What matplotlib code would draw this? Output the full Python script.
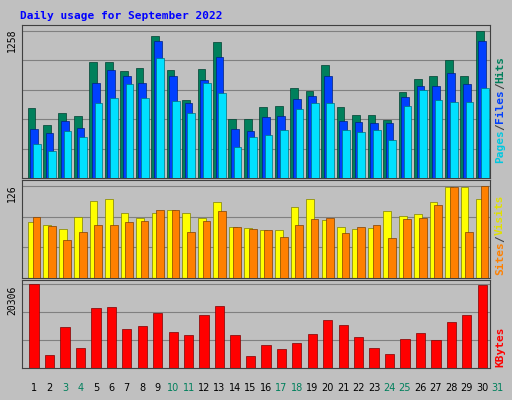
import matplotlib
matplotlib.use("Agg")
import matplotlib.pyplot as plt
import numpy as np

days = list(range(1, 31))
day_labels = [str(d) for d in range(1, 32)]
weekend = [3, 4, 10, 11, 17, 18, 24, 25, 31]
hits = [599,451,555,529,989,989,911,937,1215,920,668,928,1163,503,503,607,616,772,746,963,607,538,538,495,737,850,876,1006,876,1258]
files = [416,382,486,425,816,920,868,816,1171,876,642,842,1032,416,399,521,529,677,703,868,486,477,469,469,694,790,790,894,807,1171]
pages = [295,234,399,347,642,685,807,685,1024,659,555,816,729,269,347,364,408,590,642,642,408,390,408,321,616,755,668,651,651,772]
visits = [77,73,67,84,106,109,90,83,90,94,90,83,104,70,69,66,66,97,108,80,70,67,69,92,85,88,105,125,125,109]
sites = [84,71,52,63,73,73,77,78,94,94,63,78,92,70,67,66,57,73,81,83,62,70,73,55,81,83,101,125,63,127]
kbytes = [20306,3259,10028,4763,14541,14791,9527,10279,13287,8774,8022,12786,15042,8022,3008,5515,4513,6017,8273,11532,10529,7521,4763,3510,7020,8524,6769,11031,12786,20056]

bg = "#C0C0C0"
fig = plt.figure(figsize=(5.12, 4.0), dpi=100, facecolor=bg)
W, H = 512, 400
def ax_px(x0, y0, x1, y1):
    a = fig.add_axes([x0/W, 1-y1/H, (x1-x0)/W, (y1-y0)/H], facecolor=bg)
    a.set_xticks([]); a.set_yticks([])
    for s in a.spines.values():
        s.set_color("#404040")
    return a

x = np.array(days, dtype=float)
xl = (0.22, 30.5)

a1 = ax_px(22, 25, 490, 178)
a1.set_xlim(*xl); a1.set_ylim(0, 1258*1.04)
for g in np.linspace(0, 1258, 6)[1:]:
    a1.axhline(g, color="#808080", lw=0.8, zorder=0)
a1.bar(x-0.17, hits, 0.5, color="#00805C", edgecolor="#004030", lw=0.5, zorder=2)
a1.bar(x, files, 0.5, color="#0040FF", edgecolor="#002080", lw=0.5, zorder=3)
a1.bar(x+0.17, pages, 0.5, color="#00E0FF", edgecolor="#007080", lw=0.5, zorder=4)

a2 = ax_px(22, 180, 490, 278)
a2.set_xlim(*xl); a2.set_ylim(0, 126*1.07)
for g in np.linspace(0, 126, 4)[1:]:
    a2.axhline(g, color="#808080", lw=0.8, zorder=0)
a2.bar(x-0.15, visits, 0.5, color="#FFFF00", edgecolor="#808000", lw=0.5, zorder=2)
a2.bar(x+0.15, sites, 0.5, color="#FF8000", edgecolor="#804000", lw=0.5, zorder=3)

a3 = ax_px(22, 280, 490, 368)
a3.set_xlim(*xl); a3.set_ylim(0, 20306*1.05)
for g in np.linspace(0, 20306, 4)[1:]:
    a3.axhline(g, color="#808080", lw=0.8, zorder=0)
a3.bar(x, kbytes, 0.6, color="#FF0000", edgecolor="#800000", lw=0.5, zorder=2)

fig.text(20/W, 1-16/H, "Daily usage for September 2022", color="#0000FF",
         family="DejaVu Sans Mono", weight="bold", fontsize=8, va="center")
fig.text(12/W, 1-40/H, "1258", rotation=90, fontsize=7, va="center", ha="center", family="DejaVu Sans Mono")
fig.text(12/W, 1-193/H, "126", rotation=90, fontsize=7, va="center", ha="center", family="DejaVu Sans Mono")
fig.text(12/W, 1-300/H, "20306", rotation=90, fontsize=7, va="center", ha="center", family="DejaVu Sans Mono")

FS = 8
ADV = 0.602 * FS * 100 / 72
def rlabel(y, parts):
    yy = y
    for t, c in parts:
        fig.text(500/W, 1-yy/H, t, rotation=90, color=c, fontsize=FS,
                 family="DejaVu Sans Mono", weight="bold", va="bottom", ha="center")
        yy -= len(t)*ADV
rlabel(163, [("Pages", "#00C8E0"), ("/", "#404040"), ("Files", "#0040FF"), ("/", "#404040"), ("Hits", "#00805C")])
rlabel(275, [("Sites", "#FF8000"), ("/", "#404040"), ("Visits", "#E0E000")])
rlabel(367, [("KBytes", "#FF0000")])

for i, lab in enumerate(day_labels):
    d = i + 1
    px = 22 + (d - xl[0]) / (xl[1]-xl[0]) * 468
    fig.text(px/W, 1-388/H, lab, ha="center", va="center", fontsize=7,
             color="#00805C" if d in weekend else "black")

fig.savefig("out.png", dpi=100, facecolor=bg)
